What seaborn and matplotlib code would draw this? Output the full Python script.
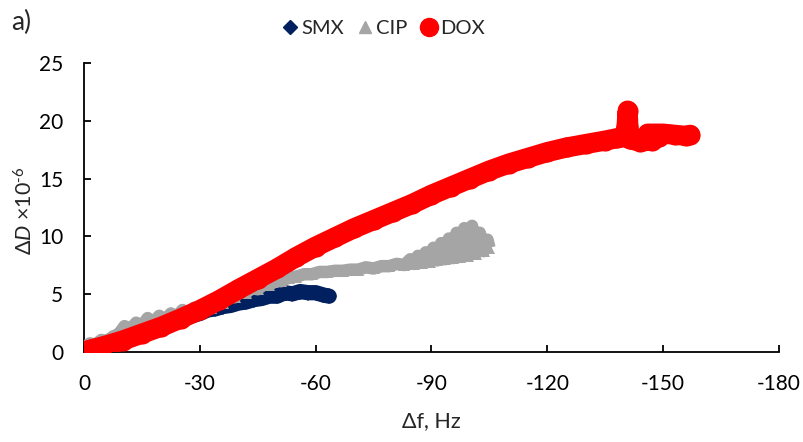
import matplotlib
matplotlib.use("Agg")
import matplotlib.pyplot as plt
import seaborn as sns
import pandas as pd
from matplotlib.lines import Line2D

# ---- data ----
smx_f = [0, -3, -6, -9, -12, -15, -18, -21, -24, -27, -30, -32, -34, -36, -38, -40,
         -42, -44, -46, -48, -50, -52, -54, -56, -58, -60, -62, -63.5]
smx_d = [0.0, 0.4, 0.8, 1.1, 1.5, 1.8, 2.1, 2.4, 2.7, 3.0, 3.3, 3.6, 3.7, 3.9, 4.0, 4.2,
         4.3, 4.5, 4.6, 4.8, 4.8, 5.1, 5.0, 5.2, 5.1, 5.1, 4.9, 4.8]

cip_f = [0, -1.5, -3, -4.5, -6, -7.5, -9, -10.5, -12, -13.5, -15, -16.5, -18, -19.5, -21,
         -22.5, -24, -25.5, -27, -28.5, -30, -31.5, -33, -34.5, -36, -37.5, -39, -40.5,
         -42, -43.5, -45, -46.5, -48, -49.5, -51, -53, -55, -57, -59, -61, -63, -65, -67,
         -69, -71, -73, -75, -77, -79, -81, -83, -84.5, -85.5, -86.5, -87.5, -88.5, -89.5,
         -90.5, -91.5, -92.5, -93.5, -94.5, -95.5, -96.5, -97.5, -98.5, -99.5, -100.5,
         -101.5, -102.5, -103.5, -104.5, -105]
cip_d = [0.3, 0.7, 0.6, 1.0, 0.9, 1.3, 1.5, 2.2, 1.9, 2.5, 2.2, 2.9, 2.5, 3.1, 2.7,
         3.3, 3.0, 3.6, 3.2, 3.8, 3.5, 4.1, 3.8, 4.5, 4.2, 5.1, 4.7, 5.3,
         5.1, 5.5, 5.4, 5.8, 5.8, 6.1, 6.1, 6.4, 6.5, 6.7, 6.7, 6.9, 6.9, 7.0, 7.0,
         7.1, 7.1, 7.3, 7.2, 7.4, 7.4, 7.6, 7.5, 8.0, 7.6, 8.3, 7.7, 8.6, 7.8,
         9.0, 7.9, 9.4, 8.0, 9.8, 8.1, 10.3, 8.2, 10.7, 8.3, 10.9,
         8.5, 10.3, 8.7, 9.7, 9.0]

dox_f = [0, -2, -5, -10, -15, -20, -25, -30, -35, -40, -45, -50, -55, -60, -65, -70,
         -75, -80, -85, -90, -95, -100, -105, -110, -115, -120, -125, -130, -135, -138,
         -140, -140.5, -140.8, -141, -141.2, -141.5, -144, -147, -149, -146, -150, -153,
         -156, -157]
dox_d = [0.0, 0.2, 0.45, 0.95, 1.55, 2.15, 2.85, 3.6, 4.45, 5.4, 6.3, 7.2, 8.2, 9.1, 9.9, 10.7,
         11.4, 12.1, 12.8, 13.6, 14.3, 15.0, 15.7, 16.3, 16.8, 17.3, 17.7, 18.0, 18.3, 18.5,
         18.6, 19.5, 20.9, 19.5, 18.6, 18.4, 18.2, 18.3, 18.6, 18.9, 18.9, 18.8,
         18.7, 18.8]

series_names = ["SMX", "CIP", "DOX"]
colors = ["#002060", "#A5A5A5", "#FF0000"]
x_ticks = [0, -30, -60, -90, -120, -150, -180]
y_ticks = [0, 5, 10, 15, 20, 25]

# ---- style ----
sns.set_theme(style="white")
plt.rcParams["font.family"] = ["Lato", "DejaVu Sans"]
plt.rcParams["axes.unicode_minus"] = False
plt.rcParams["mathtext.fontset"] = "custom"
plt.rcParams["mathtext.rm"] = "Lato"
plt.rcParams["mathtext.it"] = "Lato:italic"

fig = plt.figure(figsize=(8.04, 4.42), dpi=100)
ax = fig.add_axes([84 / 804, 1 - 351.5 / 442, (779 - 84) / 804, (351.5 - 63.3) / 442])

df_smx = pd.DataFrame({"f": smx_f, "d": smx_d})
df_cip = pd.DataFrame({"f": cip_f, "d": cip_d})
df_dox = pd.DataFrame({"f": dox_f, "d": dox_d})

sns.lineplot(data=df_smx, x="f", y="d", sort=False, estimator=None, ax=ax,
             color=colors[0], lw=11, marker="D", markersize=8, markeredgewidth=0,
             solid_capstyle="round", solid_joinstyle="round", legend=False)
sns.lineplot(data=df_cip, x="f", y="d", sort=False, estimator=None, ax=ax,
             color=colors[1], lw=9, marker="^", markersize=8, markeredgewidth=0,
             solid_capstyle="butt", solid_joinstyle="round", legend=False)
sns.lineplot(data=df_dox, x="f", y="d", sort=False, estimator=None, ax=ax,
             color=colors[2], lw=14.5, marker="o", markersize=14.5, markeredgewidth=0,
             solid_capstyle="round", solid_joinstyle="round", legend=False)

ax.set_xlim(0, -180)
ax.set_ylim(0, 25)
ax.set_xticks(x_ticks)
ax.set_yticks(y_ticks)
ax.set_xticklabels([str(v) for v in x_ticks])
ax.set_yticklabels([str(v) for v in y_ticks])
ax.set_xlabel("")
ax.set_ylabel("")

for s in ["top", "right"]:
    ax.spines[s].set_visible(False)
for s in ["left", "bottom"]:
    ax.spines[s].set_color("black")
    ax.spines[s].set_linewidth(1.3)
    ax.spines[s].set_zorder(0.5)

ax.tick_params(axis="both", direction="in", length=5, width=1.3, color="black",
               labelsize=15, labelcolor="black", left=True, bottom=True)
ax.tick_params(axis="y", pad=15)
ax.tick_params(axis="x", pad=16)

fig.text(431 / 804, 1 - 421 / 442, "Δf, Hz", ha="center", va="center", fontsize=15.5)
fig.text(25 / 804, 1 - 211 / 442, r"Δ$\mathit{D}$ ×10$^{\text{-6}}$", rotation=90,
         ha="center", va="center", fontsize=15.5)
fig.text(11 / 804, 1 - 22 / 442, "a)", ha="left", va="center", fontsize=19)

handles = [
    Line2D([], [], marker="D", color=colors[0], linestyle="", markersize=7),
    Line2D([], [], marker="^", color=colors[1], linestyle="", markersize=9),
    Line2D([], [], marker="o", color=colors[2], linestyle="", markersize=13),
]
fig.legend(handles, series_names, loc="center", ncol=3, frameon=False,
           bbox_to_anchor=(383 / 804, 1 - 28 / 442), bbox_transform=fig.transFigure,
           fontsize=14.5, handletextpad=0.1, columnspacing=0.6, handlelength=0.9)

fig.savefig("out.png", dpi=100)
